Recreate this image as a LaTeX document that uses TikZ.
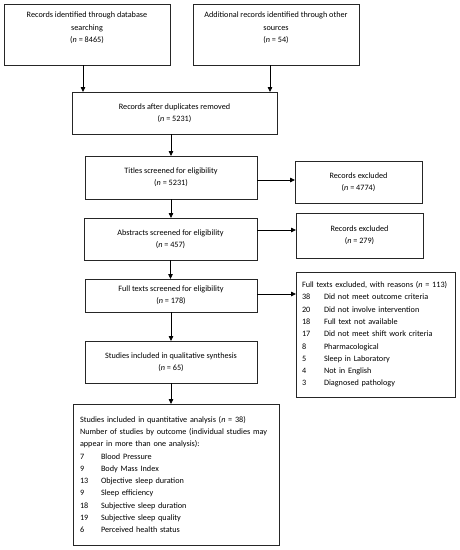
\documentclass[tikz,border=0pt]{standalone}
\usepackage{fontspec}
\setmainfont{Carlito}
\usetikzlibrary{arrows.meta}
\begin{document}
\begin{tikzpicture}[x=1pt,y=-1pt,
  every node/.style={font=\fontsize{8.2}{12.3}\selectfont},
  box/.style={draw=black!85, line width=0.8pt, inner sep=0pt, outer sep=0pt, align=center},
  listbox/.style={draw=black!85, line width=0.8pt, inner ysep=0pt, outer sep=0pt, align=left},
  arr/.style={line width=0.8pt, -{Triangle[length=5pt,width=4.5pt]}}]
\useasboundingbox[fill=white] (0,0) rectangle (460,550);
\node[box, minimum width=166pt, minimum height=61pt] (b1) at (87,34.5)
  {Records identified through database\\searching\\(\textit{n} = 8465)\\[2pt]};
\node[box, minimum width=166pt, minimum height=61pt] (b2) at (276,34.5)
  {Additional records identified through other\\sources\\(\textit{n} = 54)\\[2pt]};
\node[box, minimum width=205pt, minimum height=42pt] (b3) at (174.5,113)
  {Records after duplicates removed\\(\textit{n} = 5231)};
\node[box, minimum width=172pt, minimum height=43pt] (b4) at (171,177.5)
  {Titles screened for eligibility\\(\textit{n} = 5231)};
\node[box, minimum width=127pt, minimum height=42pt] (e1) at (358.5,182)
  {Records excluded\\(\textit{n} = 4774)};
\node[box, minimum width=173pt, minimum height=42pt] (b5) at (170.5,239)
  {Abstracts screened for eligibility\\(\textit{n} = 457)};
\node[box, minimum width=127pt, minimum height=45pt] (e2) at (359.5,235.5)
  {Records excluded\\(\textit{n} = 279)};
\node[box, minimum width=172pt, minimum height=33pt] (b6) at (171,295.5)
  {Full texts screened for eligibility\\(\textit{n} = 178)};
\node[listbox, inner xsep=6pt, text width=147pt, minimum height=125pt] (e3) at (375.5,334.5)
  {\mbox{Full texts excluded, with reasons (\textit{n} = 113)}\\
   \makebox[22pt][l]{38}Did not meet outcome criteria\\
   \makebox[22pt][l]{20}Did not involve intervention\\
   \makebox[22pt][l]{18}Full text not available\\
   \makebox[22pt][l]{17}Did not meet shift work criteria\\
   \makebox[22pt][l]{8}Pharmacological\\
   \makebox[22pt][l]{5}Sleep in Laboratory\\
   \makebox[22pt][l]{4}Not in English\\
   \makebox[22pt][l]{3}Diagnosed pathology};
\node[box, minimum width=172pt, minimum height=42pt] (b7) at (171,362)
  {Studies included in qualitative synthesis\\(\textit{n} = 65)};
\node[listbox, inner xsep=7pt, text width=192pt, minimum height=141pt] (b8) at (176,474.5)
  {Studies included in quantitative analysis (\textit{n} = 38)\\
   \mbox{Number of studies by outcome (individual studies may}\\
   appear in more than one analysis):\\
   \makebox[21pt][l]{7}Blood Pressure\\
   \makebox[21pt][l]{9}Body Mass Index\\
   \makebox[21pt][l]{13}Objective sleep duration\\
   \makebox[21pt][l]{9}Sleep efficiency\\
   \makebox[21pt][l]{18}Subjective sleep duration\\
   \makebox[21pt][l]{19}Subjective sleep quality\\
   \makebox[21pt][l]{6}Perceived health status};
% connectors
\draw[arr] ([xshift=-4pt]b1.south) -- ([xshift=-4pt]b1.south |- b3.north);
\draw[arr] ([xshift=-6pt]b2.south) -- ([xshift=-6pt]b2.south |- b3.north);
\draw[arr] (b3.south -| b4.north) -- (b4.north);
\draw[arr] (b4.south) -- (b4.south |- b5.north);
\draw[arr] (b5.south) -- (b5.south |- b6.north);
\draw[arr] (b6.south) -- (b7.north);
\draw[arr] (b7.south) -- (b7.south |- b8.north);
\draw[arr] (b4.east |- 0,180) -- (e1.west |- 0,180);
\draw[arr] (b5.east |- 0,230) -- (e2.west |- 0,230);
\draw[arr] (b6.east |- 0,294) -- (e3.west |- 0,294);
\end{tikzpicture}
\end{document}
